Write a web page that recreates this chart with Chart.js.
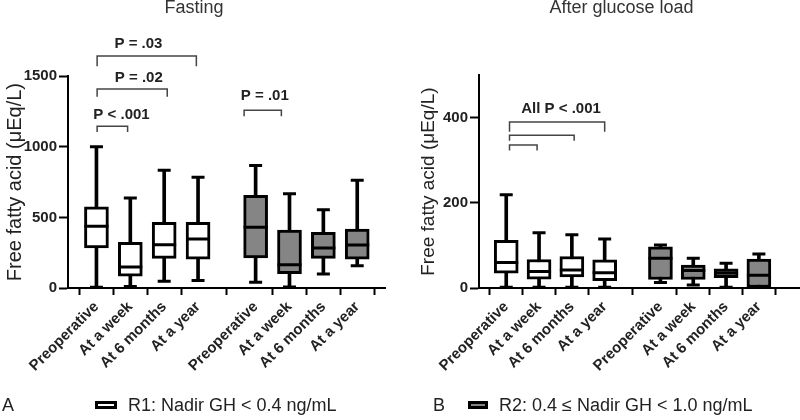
<!DOCTYPE html>
<html>
<head>
<meta charset="utf-8">
<script src="https://cdn.jsdelivr.net/npm/chart.js@4/dist/chart.umd.min.js"></script>
<style>
html,body{margin:0;padding:0;width:800px;height:420px;overflow:hidden;background:#fff;font-family:"Liberation Sans",Arial,sans-serif;}
#wrapA{position:absolute;left:0;top:0;width:400px;height:420px;}
#wrapB{position:absolute;left:400px;top:0;width:430px;height:420px;}
.lg{position:absolute;top:395px;font-size:18px;color:#222;line-height:20px;white-space:nowrap;}
.sw{display:inline-block;width:22px;height:8px;border:3px solid #000;box-sizing:border-box;vertical-align:middle;margin-right:11px;position:relative;top:-1px;}
</style>
</head>
<body>
<div id="wrapA"><canvas id="cA"></canvas></div>
<div id="wrapB"><canvas id="cB"></canvas></div>
<div class="lg" style="left:2px">A</div>
<div class="lg" style="left:95px"><span class="sw" style="background:#fff"></span>R1: Nadir GH &lt; 0.4 ng/mL</div>
<div class="lg" style="left:433px">B</div>
<div class="lg" style="left:468px"><span class="sw" style="background:#858585;width:20px"></span>R2: 0.4 ≤ Nadir GH &lt; 1.0 ng/mL</div>
<script>
// ---------------- data ----------------
const categories = ['Preoperative', 'At a week', 'At 6 months', 'At a year'];
const groupNames = ['R1: Nadir GH < 0.4 ng/mL', 'R2: 0.4 ≤ Nadir GH < 1.0 ng/mL'];
const panelTitles = ['Fasting', 'After glucose load'];
const yAxisTitle = 'Free fatty acid (μEq/L)';

// Fasting, R1
const fastingR1Min    = [5, 10, 47, 54];
const fastingR1Q1     = [283, 83, 210, 205];
const fastingR1Median = [437, 149, 307, 347];
const fastingR1Q3     = [574, 324, 465, 465];
const fastingR1Max    = [1000, 638, 834, 784];
// Fasting, R2
const fastingR2Min    = [40, 7, 99, 158];
const fastingR2Q1     = [213, 102, 210, 205];
const fastingR2Median = [430, 165, 283, 305];
const fastingR2Q3     = [657, 411, 394, 418];
const fastingR2Max    = [867, 668, 555, 763];
// After glucose load, R1
const glucoseR1Min    = [2, 2, 2, 2];
const glucoseR1Q1     = [35, 21, 26, 17];
const glucoseR1Median = [60, 39, 42, 36];
const glucoseR1Q3     = [112, 67, 74, 66];
const glucoseR1Max    = [219, 130, 125, 115];
// After glucose load, R2
const glucoseR2Min    = [13, 7, 2, 0];
const glucoseR2Q1     = [20, 20, 24, 0];
const glucoseR2Median = [70, 41, 35, 30];
const glucoseR2Q3     = [97, 54, 45, 68];
const glucoseR2Max    = [101, 70, 58, 80];

const fastingTicks = [0, 500, 1000, 1500];
const glucoseTicks = [0, 200, 400];

// significance annotations (x in category-slot units, y in data units)
const fastingBrackets = [
  {from: 1.02, to: 1.92, at: 1145, foot: 1105},
  {from: 1.02, to: 3.09, at: 1410, foot: 1355},
  {from: 1.02, to: 3.95, at: 1643, foot: 1570},
  {from: 5.36, to: 6.46, at: 1259, foot: 1216}
];
const fastingLabels = [
  {text: 'P < .001', x: 1.74, y: 1225},
  {text: 'P = .02', x: 2.25, y: 1488},
  {text: 'P = .03', x: 2.24, y: 1729},
  {text: 'P = .01', x: 5.97, y: 1358}
];
const glucoseBrackets = [
  {from: 1.10, to: 4.00, at: 390, foot: 367},
  {from: 1.10, to: 3.07, at: 359, foot: 346},
  {from: 1.10, to: 1.94, at: 336, foot: 323}
];
const glucoseLabels = [
  {text: 'All P < .001', x: 2.67, y: 421}
];

// ---------------- layout / style ----------------
const FONT = '"Liberation Sans", Arial, sans-serif';
Chart.defaults.font.family = FONT;
const GROUP_GAP = 0.7;
const slot = (g, i) => 1 + g * (categories.length + GROUP_GAP) + i;
const allSlots = [0, 1].flatMap(g => categories.map((_, i) => slot(g, i)));
const allLabels = [0, 1].flatMap(() => categories);
const fills = ['#ffffff', '#858585'];

function boxDatasets(groups) {
  const ds = [];
  groups.forEach((g, gi) => {
    const xs = categories.map((_, i) => slot(gi, i));
    ds.push({type: 'bar', label: groupNames[gi] + ' range',
      data: xs.map((x, i) => ({x, y: [g.min[i], g.max[i]]})),
      backgroundColor: '#000', borderWidth: 0, barThickness: 3, grouped: false, order: 3});
    ds.push({type: 'bar', label: groupNames[gi],
      data: xs.map((x, i) => ({x, y: [g.q1[i], g.q3[i]]})),
      backgroundColor: fills[gi], borderColor: '#000', borderWidth: 3, borderSkipped: false,
      barThickness: 24, grouped: false, order: 2});
    ds.push({type: 'line', label: groupNames[gi] + ' median',
      data: xs.map((x, i) => ({x, y: g.med[i]})),
      showLine: false, pointStyle: 'line', pointRadius: 12, pointHoverRadius: 12,
      pointBorderWidth: 3, pointBorderColor: '#000', borderColor: '#000', order: 1});
    ds.push({type: 'line', label: groupNames[gi] + ' caps',
      data: xs.map((x, i) => ({x, y: g.min[i]})).concat(xs.map((x, i) => ({x, y: g.max[i]}))),
      showLine: false, pointStyle: 'line', pointRadius: 6.5, pointHoverRadius: 6.5,
      pointBorderWidth: 3, pointBorderColor: '#000', borderColor: '#000', order: 1});
  });
  return ds;
}

function bracketPlugin(brackets, labels) {
  return {
    id: 'brackets',
    afterDatasetsDraw(chart) {
      const {ctx} = chart;
      const x = chart.scales.x, y = chart.scales.y;
      ctx.save();
      ctx.strokeStyle = '#444';
      ctx.lineWidth = 1.5;
      brackets.forEach(b => {
        const x1 = x.getPixelForValue(b.from), x2 = x.getPixelForValue(b.to);
        const yy = y.getPixelForValue(b.at), ye = y.getPixelForValue(b.foot);
        ctx.beginPath();
        ctx.moveTo(x1, ye); ctx.lineTo(x1, yy); ctx.lineTo(x2, yy); ctx.lineTo(x2, ye);
        ctx.stroke();
      });
      ctx.fillStyle = '#222';
      ctx.font = 'bold 15px ' + FONT;
      ctx.textAlign = 'center';
      ctx.textBaseline = 'middle';
      labels.forEach(l => ctx.fillText(l.text, x.getPixelForValue(l.x), y.getPixelForValue(l.y)));
      ctx.restore();
    }
  };
}

function makeChart(id, cfg) {
  return new Chart(document.getElementById(id), {
    type: 'bar',
    data: {datasets: boxDatasets(cfg.groups)},
    plugins: [bracketPlugin(cfg.brackets, cfg.labels)],
    options: {
      responsive: true, maintainAspectRatio: false, animation: false,
      layout: {padding: {left: cfg.padLeft, right: cfg.padRight, top: 0, bottom: 37}},
      plugins: {
        legend: {display: false},
        tooltip: {enabled: false},
        title: {display: true, text: cfg.title, color: '#333',
          font: {size: 18, weight: 'normal', lineHeight: 0.9},
          padding: {top: 0, bottom: cfg.titleGap}}
      },
      scales: {
        x: {
          type: 'linear', min: cfg.xMin, max: cfg.xMax, offset: false,
          afterBuildTicks: s => { s.ticks = allSlots.map(v => ({value: v})); },
          afterFit: s => { s.height = 95; },
          ticks: {autoSkip: false, minRotation: 45, maxRotation: 45, color: '#222', padding: 3,
            font: {size: 15, weight: 'bold'}, callback: (v, i) => allLabels[i]},
          grid: {drawOnChartArea: false, drawTicks: true, tickLength: 7, tickWidth: 2, tickColor: '#000'},
          border: {display: true, color: '#000', width: 2}
        },
        y: {
          min: 0, max: cfg.yMax,
          afterBuildTicks: s => { s.ticks = cfg.yTicks.map(v => ({value: v})); },
          afterFit: s => { s.width = cfg.yWidth; },
          ticks: {color: '#222', padding: 2, font: {size: 15, weight: 'bold'},
            callback: v => String(v)},
          grid: {drawOnChartArea: false, drawTicks: true, tickLength: 9, tickWidth: 2, tickColor: '#000'},
          border: {display: true, color: '#000', width: 2},
          title: {display: true, text: yAxisTitle, color: '#222',
            font: {size: cfg.yTitleSize, weight: 'normal'}, padding: {top: 3, bottom: 0}}
        }
      }
    }
  });
}

makeChart('cA', {
  title: panelTitles[0],
  groups: [
    {min: fastingR1Min, q1: fastingR1Q1, med: fastingR1Median, q3: fastingR1Q3, max: fastingR1Max},
    {min: fastingR2Min, q1: fastingR2Q1, med: fastingR2Median, q3: fastingR2Q3, max: fastingR2Max}
  ],
  brackets: fastingBrackets, labels: fastingLabels,
  yMax: 1500, yTicks: fastingTicks, yWidth: 68, yTitleSize: 20,
  xMin: 0.16, xMax: 9.52, padLeft: 0, padRight: 12, titleGap: 60
});

makeChart('cB', {
  title: panelTitles[1],
  groups: [
    {min: glucoseR1Min, q1: glucoseR1Q1, med: glucoseR1Median, q3: glucoseR1Q3, max: glucoseR1Max},
    {min: glucoseR2Min, q1: glucoseR2Q1, med: glucoseR2Median, q3: glucoseR2Q3, max: glucoseR2Max}
  ],
  brackets: glucoseBrackets, labels: glucoseLabels,
  yMax: 500, yTicks: glucoseTicks, yWidth: 65, yTitleSize: 19,
  xMin: 0.17, xMax: 10.41, padLeft: 14, padRight: 1, titleGap: 59
});
</script>
</body>
</html>
